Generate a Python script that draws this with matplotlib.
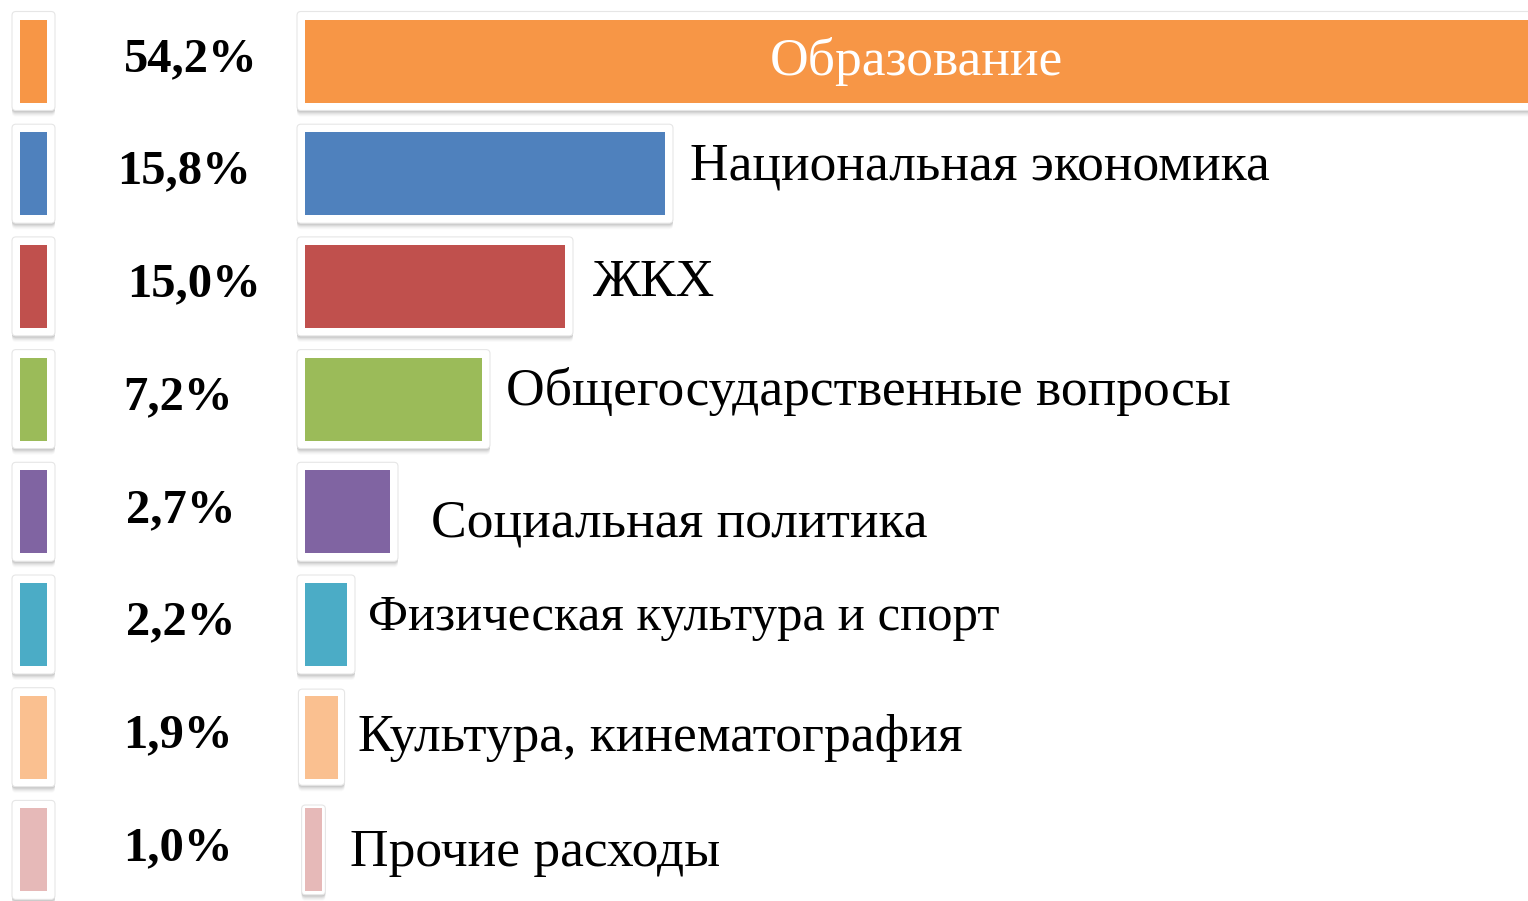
import matplotlib
matplotlib.use("Agg")
import matplotlib.pyplot as plt
from matplotlib.patches import FancyBboxPatch

# ---- data ----
categories = ["Образование", "Национальная экономика", "ЖКХ",
              "Общегосударственные вопросы", "Социальная политика",
              "Физическая культура и спорт", "Культура, кинематография",
              "Прочие расходы"]
shares = [54.2, 15.8, 15.0, 7.2, 2.7, 2.2, 1.9, 1.0]
share_labels = ["54,2%", "15,8%", "15,0%", "7,2%", "2,7%", "2,2%", "1,9%", "1,0%"]
# visual bar lengths as drawn in the infographic (not proportional to shares)
bar_lengths = [1240, 360, 260, 177, 85, 42, 33, 17]
colors = ["#F79646", "#4F81BD", "#C0504D", "#9BBB59", "#8064A2",
          "#4BACC6", "#FAC090", "#E6B9B8"]

# ---- layout ----
W, H = 1528, 901
label_dx = [0, 25, 28, 24, 41, 21, 20, 28]
label_dy = [0, -7, -3, -8, 12, -7, 1, 3]
label_fs = [38.5, 38.5, 38.5, 38.5, 38.5, 36.5, 38.5, 38.5]
pct_x = [124, 117, 127, 123, 126, 126, 123, 123]

fig = plt.figure(figsize=(W / 100, H / 100), dpi=100)
ax = fig.add_axes([0, 0, 1, 1])
ax.set_xlim(0, W)
ax.set_ylim(H, 0)
ax.axis("off")

serif = ["Liberation Serif", "DejaVu Serif"]

y0, step, bh = 61, 112.7, 83
ys = [y0 + step * i for i in range(len(categories))]
bar_left = 305
leg_left, leg_w = 20, 27


def framed(rect, pad):
    x, y = rect.get_x(), rect.get_y()
    w, h = rect.get_width(), rect.get_height()
    for k, a in zip(range(1, 7), [0.10, 0.09, 0.08, 0.06, 0.04, 0.03]):
        ax.add_patch(FancyBboxPatch((x - pad, y - pad + k), w + 2 * pad, h + 2 * pad,
                                    boxstyle="round,pad=0,rounding_size=4",
                                    fc="#555555", ec="none", alpha=a, zorder=1))
    ax.add_patch(FancyBboxPatch((x - pad, y - pad), w + 2 * pad, h + 2 * pad,
                                boxstyle="round,pad=0,rounding_size=4",
                                fc="white", ec="#e6e6e6", lw=0.8, zorder=2))


legend_bars = ax.barh(ys, [leg_w] * len(ys), left=leg_left, height=bh,
                      color=colors, zorder=3)
main_bars = ax.barh(ys, bar_lengths, left=bar_left, height=bh,
                    color=colors, zorder=3)

for r in legend_bars:
    framed(r, 8)
for r in main_bars:
    framed(r, min(8, max(2, r.get_width() * 0.2)))

for i, (y, lab, cat, r) in enumerate(zip(ys, share_labels, categories, main_bars)):
    ax.text(pct_x[i], y - 2, lab, fontsize=35, fontweight="bold", family=serif,
            ha="left", va="center", color="black", zorder=5)
    if i == 0:
        xc = (bar_left + W) / 2
        ax.text(xc, y + 1, cat, fontsize=label_fs[i], family=serif, ha="center",
                va="center", color="white", zorder=5)
    else:
        xe = r.get_x() + r.get_width()
        ax.text(xe + label_dx[i], y + label_dy[i], cat, fontsize=label_fs[i],
                family=serif, ha="left", va="center", color="black", zorder=5)

fig.savefig("out.png", dpi=100)
